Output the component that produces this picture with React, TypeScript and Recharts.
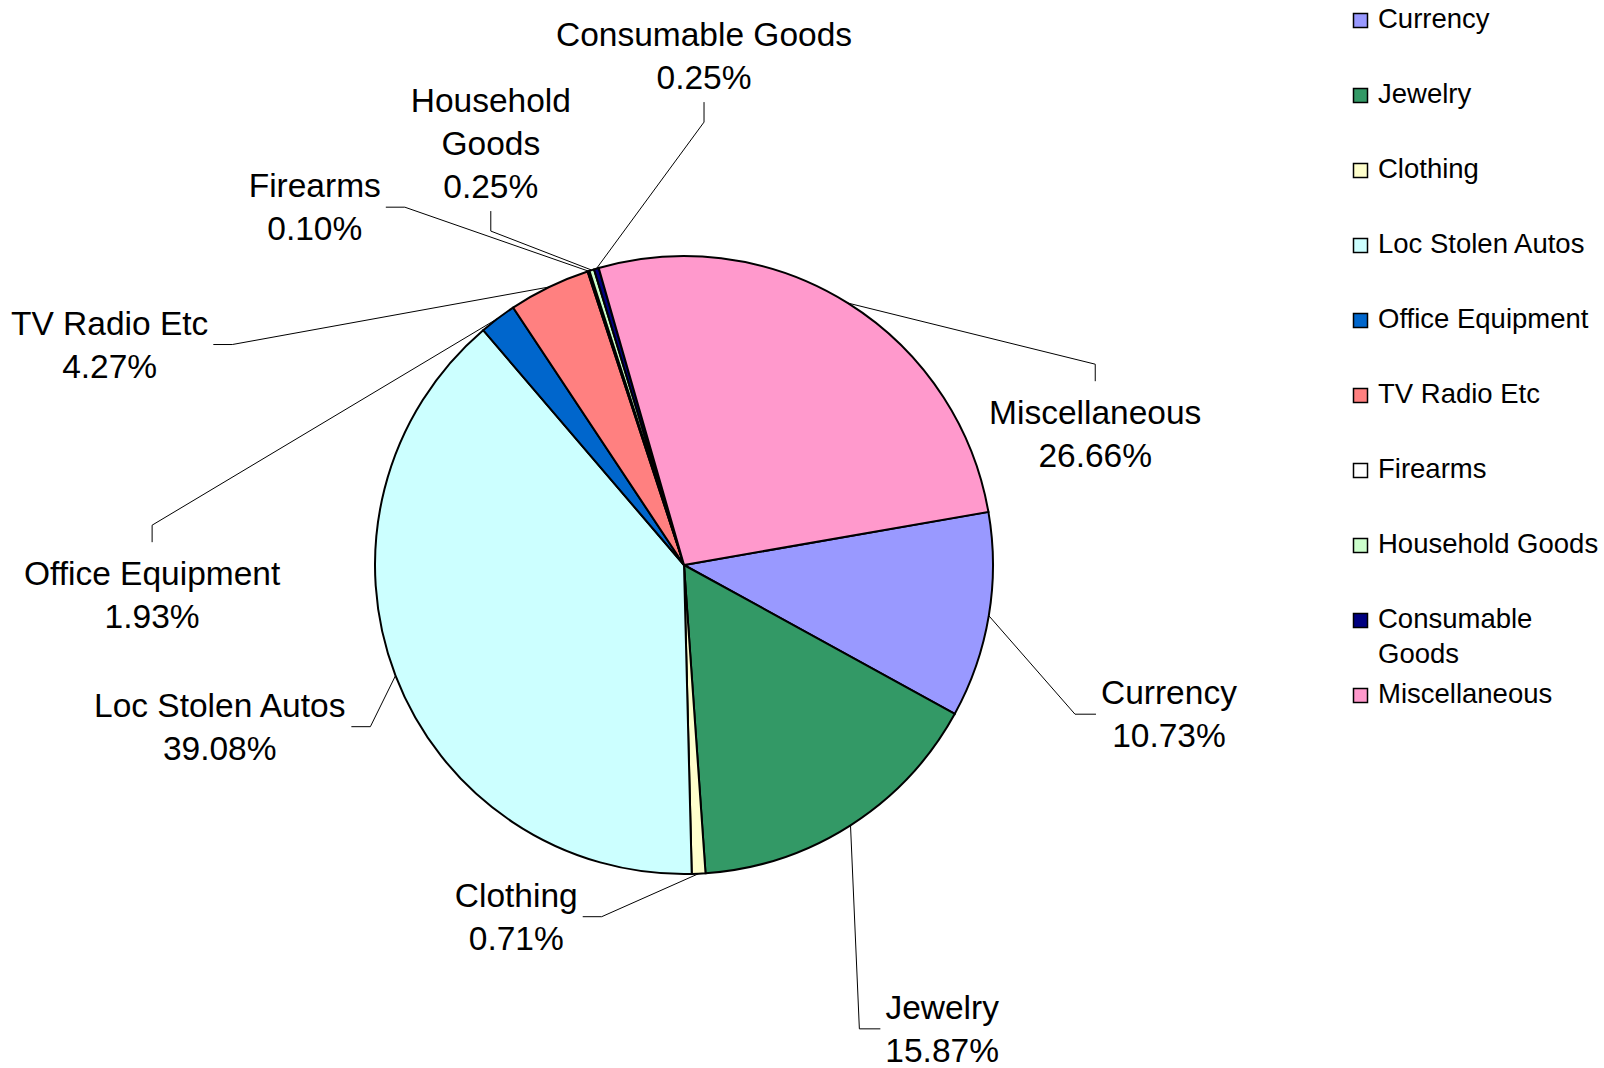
import React from 'react';
import { PieChart, Pie, Cell, Legend } from 'recharts';

// slice order is clockwise, starting just above 3 o'clock
const categories = [
  'Currency',
  'Jewelry',
  'Clothing',
  'Loc Stolen Autos',
  'Office Equipment',
  'TV Radio Etc',
  'Firearms',
  'Household Goods',
  'Consumable Goods',
  'Miscellaneous',
];
const shares = [10.73, 15.87, 0.71, 39.08, 1.93, 4.27, 0.1, 0.25, 0.25, 26.66];
const colors = ['#9999FF', '#339966', '#FFFFCC', '#CCFFFF', '#0066CC', '#FF8080', '#FFFFFF', '#CCFFCC', '#000080', '#FF99CC'];

// how the names wrap in the data labels and in the legend
const labelNames = [
  ['Currency'],
  ['Jewelry'],
  ['Clothing'],
  ['Loc Stolen Autos'],
  ['Office Equipment'],
  ['TV Radio Etc'],
  ['Firearms'],
  ['Household', 'Goods'],
  ['Consumable Goods'],
  ['Miscellaneous'],
];
const legendNames = [
  ['Currency'],
  ['Jewelry'],
  ['Clothing'],
  ['Loc Stolen Autos'],
  ['Office Equipment'],
  ['TV Radio Etc'],
  ['Firearms'],
  ['Household Goods'],
  ['Consumable', 'Goods'],
  ['Miscellaneous'],
];

// label block centre: angle clockwise from 12 o'clock, distance in pie radii,
// and which side of the block the leader line joins
const labelSpots = [
  { angle: 107.1, dist: 1.642, attach: 'left' },
  { angle: 150.9, dist: 1.718, attach: 'left' },
  { angle: 205.5, dist: 1.261, attach: 'right' },
  { angle: 250.8, dist: 1.591, attach: 'right' },
  { angle: 266.8, dist: 1.724, attach: 'top' },
  { angle: 291.0, dist: 1.991, attach: 'right' },
  { angle: 314.1, dist: 1.664, attach: 'right' },
  { angle: 335.4, dist: 1.502, attach: 'bottom' },
  { angle: 2.25, dist: 1.65, attach: 'bottom' },
  { angle: 72.3, dist: 1.397, attach: 'top' },
];

const data = categories.map((name, i) => ({ name, value: shares[i] }));

const FONT = '"Liberation Sans", Arial, sans-serif';
const LABEL_SIZE = 33.5;
const LINE_H = 43;
const LEGEND_SIZE = 27.5;
const RAD = Math.PI / 180;

let measureCtx: CanvasRenderingContext2D | null = null;
const textWidth = (s: string) => {
  if (!measureCtx) {
    measureCtx = document.createElement('canvas').getContext('2d');
  }
  if (!measureCtx) return s.length * LABEL_SIZE * 0.55;
  measureCtx.font = `${LABEL_SIZE}px ${FONT}`;
  return measureCtx.measureText(s).width;
};

const renderLabel = (props: any) => {
  const { cx, cy, midAngle, outerRadius, index } = props;
  const spot = labelSpots[index];
  const lines = [...labelNames[index], `${shares[index].toFixed(2)}%`];

  // block centre
  const bx = cx + spot.dist * outerRadius * Math.sin(spot.angle * RAD);
  const by = cy - spot.dist * outerRadius * Math.cos(spot.angle * RAD);
  const firstY = by - ((lines.length - 1) * LINE_H) / 2;
  const lastY = firstY + (lines.length - 1) * LINE_H;
  const halfW = Math.max(...lines.map(textWidth)) / 2;

  // leader starts at the middle of the slice's outer edge
  const sx = cx + outerRadius * Math.cos(-midAngle * RAD);
  const sy = cy + outerRadius * Math.sin(-midAngle * RAD);

  let ex = bx, ey = by, kx = bx, ky = by;
  if (spot.attach === 'top') {
    ey = firstY - 0.36 * LABEL_SIZE - 19;
    ky = ey - 17;
  } else if (spot.attach === 'bottom') {
    ey = lastY + 0.36 * LABEL_SIZE + 13;
    ky = ey + 20;
  } else if (spot.attach === 'left') {
    ex = bx - halfW - 5;
    kx = ex - 21;
  } else {
    ex = bx + halfW + 5;
    kx = ex + 19;
  }

  return (
    <g key={`lbl-${index}`}>
      <polyline
        points={`${sx},${sy} ${kx},${ky} ${ex},${ey}`}
        fill="none"
        stroke="#000"
        strokeWidth={1}
      />
      <text
        x={bx}
        textAnchor="middle"
        fontFamily={FONT}
        fontSize={LABEL_SIZE}
        fill="#000"
      >
        {lines.map((ln, i) => (
          <tspan key={i} x={bx} y={firstY + i * LINE_H + 0.35 * LABEL_SIZE}>
            {ln}
          </tspan>
        ))}
      </text>
    </g>
  );
};

const renderLegend = () => (
  <svg width={264} height={730}>
    {categories.map((c, i) => {
      const cy = 18 + 75 * i;
      return (
        <g key={c}>
          <rect x={13.5} y={cy - 4.5} width={14} height={14} fill={colors[i]} stroke="#000" strokeWidth={1.5} />
          <text x={38} fontFamily={FONT} fontSize={LEGEND_SIZE} fill="#000">
            {legendNames[i].map((ln, j) => (
              <tspan key={j} x={38} y={cy + 0.35 * LEGEND_SIZE + j * 35}>
                {ln}
              </tspan>
            ))}
          </text>
        </g>
      );
    })}
  </svg>
);

export default function App() {
  return (
    <div style={{ position: 'absolute', left: 0, top: 0, width: 1604, height: 1068, background: '#fff' }}>
      <PieChart width={1604} height={1068} margin={{ top: 0, right: 0, bottom: 0, left: 0 }}>
        <Pie
          data={data}
          dataKey="value"
          nameKey="name"
          cx={684}
          cy={565}
          outerRadius={309}
          startAngle={9.9}
          endAngle={-350.1}
          stroke="#000"
          strokeWidth={2}
          label={renderLabel}
          labelLine={false}
          isAnimationActive={false}
        >
          {data.map((d, i) => (
            <Cell key={d.name} fill={colors[i]} stroke="#000" strokeWidth={2} />
          ))}
        </Pie>
        <Legend
          layout="vertical"
          align="right"
          verticalAlign="top"
          wrapperStyle={{ left: 1340, right: 'auto', top: 0, width: 264 }}
          content={renderLegend}
        />
      </PieChart>
    </div>
  );
}
